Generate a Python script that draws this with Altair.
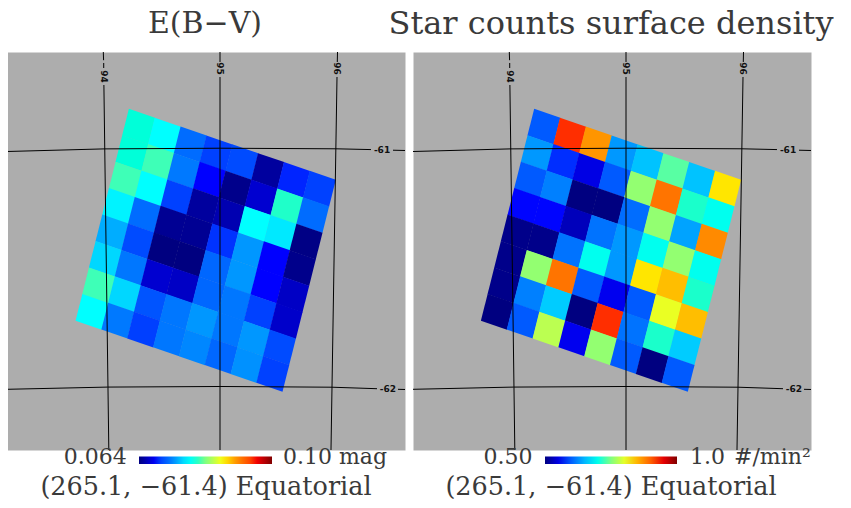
import altair as alt
import pandas as pd

JET = ["#000080", "#0000ff", "#0080ff", "#00ffff", "#80ff80", "#ffff00", "#ff8000", "#ff0000", "#800000"]
GRAY = "#adadad"
FONT = "DejaVu Serif"
INK = "#3a3a3a"

ebv = [
    [.0791, .0775, .0719, .0699, .0703, .0651, .0690, .0699],
    [.0791, .0803, .0726, .0685, .0644, .0669, .0797, .0719],
    [.0803, .0775, .0699, .0651, .0658, .0775, .0766, .0642],
    [.0770, .0719, .0647, .0647, .0694, .0737, .0685, .0644],
    [.0744, .0703, .0640, .0640, .0716, .0737, .0685, .0665],
    [.0759, .0725, .0669, .0665, .0716, .0725, .0699, .0667],
    [.0803, .0759, .0707, .0725, .0737, .0725, .0737, .0703],
    [.0775, .0726, .0698, .0725, .0732, .0716, .0735, .0699],
]
stars = [
    [.597, .928, .865, .635, .655, .735, .655, .825],
    [.635, .573, .550, .597, .760, .885, .717, .698],
    [.597, .625, .500, .500, .610, .760, .640, .870],
    [.563, .563, .530, .615, .635, .698, .760, .698],
    [.505, .505, .615, .698, .635, .825, .845, .717],
    [.505, .760, .885, .597, .555, .597, .803, .845],
    [.505, .625, .660, .500, .928, .615, .717, .660],
    [.500, .597, .780, .555, .760, .597, .500, .597],
]

# tangent-plane coordinates in degrees
EXT = 0.8344
grid_lines = [
    [(-.4306, .8344), (-.4294, .8000)],
    [(-.4289, .7883), (-.4289, .7673)],
    [(-.4281, .6960), (-.4075, -.8344)],
    [(.0587, .8344), (.0587, .7925)],
    [(.0587, .7296), (.0587, -.8344)],
    [(.5514, .8344), (.5505, .7925)],
    [(.5493, .7296), (.5241, -.8344)],
    [(-.8344, .4172), (-.4277, .4281), (.0587, .4310), (.5451, .4285), (.6918, .4252)],
    [(.7841, .4226), (.8344, .4214)],
    [(-.8344, -.5799), (-.4130, -.5706), (.0587, -.5681), (.5283, -.5711), (.7170, -.5774)],
    [(.8050, -.5799), (.8344, -.5807)],
]
grid_labels = [
    ("94", -.4289, .7317, 90),
    ("95", .0587, .7652, 90),
    ("96", .5505, .7652, 90),
    ("-61", .7380, .4235, 0),
    ("-62", .7631, -.5786, 0),
]
CELL_U = (.1083, -.0372)
CELL_V = (-.0279, -.1109)
CELL_SHAPE = "M-.4785,-.8835 L.8115,-.4395 L.4785,.8835 L-.8115,.4395 Z"

xs = alt.Scale(domain=[-EXT, EXT], nice=False, zero=False)
ys = alt.Scale(domain=[-EXT, EXT], nice=False, zero=False)

grid_df = pd.DataFrame(
    [{"seg": s, "k": k, "x": p[0], "y": p[1]} for s, line in enumerate(grid_lines) for k, p in enumerate(line)]
)
label_df = pd.DataFrame(grid_labels, columns=["t", "x", "y", "a"])


def text(t, x, y, align, size=22):
    return (
        alt.Chart(pd.DataFrame({"t": [t]}))
        .mark_text(font=FONT, fontSize=size, color=INK, align=align, baseline="alphabetic")
        .encode(x=alt.value(x), y=alt.value(y), text="t:N")
    )


def panel(values, origin, domain, bar_x, bar_len, texts):
    rows = []
    for i, row in enumerate(values):
        for j, v in enumerate(row):
            rows.append({
                "x": origin[0] + (j + .5) * CELL_U[0] + (i + .5) * CELL_V[0],
                "y": origin[1] + (j + .5) * CELL_U[1] + (i + .5) * CELL_V[1],
                "v": v,
            })
    cells = alt.Chart(pd.DataFrame(rows)).mark_point(
        shape=CELL_SHAPE, filled=True, opacity=1, size=1640, strokeWidth=0
    ).encode(
        x=alt.X("x:Q", scale=xs, axis=None),
        y=alt.Y("y:Q", scale=ys, axis=None),
        color=alt.Color(
            "v:Q",
            scale=alt.Scale(domain=domain, range=JET, nice=False, zero=False),
            legend=alt.Legend(
                orient="none", legendX=bar_x, legendY=404.5, direction="horizontal",
                gradientLength=bar_len, gradientThickness=7.5, gradientStrokeWidth=0,
                title=None, labelOpacity=0, labelFontSize=1, tickCount=2, padding=0,
            ),
        ),
    )
    lines = alt.Chart(grid_df).mark_line(color="black", strokeWidth=1).encode(
        x=alt.X("x:Q", scale=xs, axis=None),
        y=alt.Y("y:Q", scale=ys, axis=None),
        detail="seg:N",
        order="k:Q",
    )
    labs = []
    for _, r in label_df.iterrows():
        labs.append(
            alt.Chart(label_df[label_df.t == r.t]).mark_text(
                font="DejaVu Sans", fontWeight="bold", fontSize=9, color="#111", angle=int(r.a),
                align="center", baseline="middle",
            ).encode(
                x=alt.X("x:Q", scale=xs, axis=None),
                y=alt.Y("y:Q", scale=ys, axis=None),
                text="t:N",
            )
        )
    return alt.layer(cells, lines, *labs, *texts).properties(width=398, height=398)


left = panel(
    ebv, (-.3229, .5954), [0.064, 0.10], 132, 133,
    [
        text("E(B\u2212V)", 198, -19, "center", 30),
        text("0.064", 119.7, 412, "right"),
        text("0.10 mag", 276, 412, "left"),
        text("(265.1, \u221261.4) Equatorial", 199, 443, "center", 25.5),
    ],
)
right = panel(
    stars, (-.3258, .5954), [0.50, 1.0], 132, 132,
    [
        text("Star counts surface density", 198, -18, "center", 32),
        text("0.50", 119.5, 412, "right"),
        text("1.0", 277, 412, "left"),
        text("#/min\u00b2", 321, 412, "left"),
        text("(265.1, \u221261.4) Equatorial", 198, 443, "center", 25.5),
    ],
)

chart = (
    alt.hconcat(left, right, spacing=8, bounds="flush", padding={"left": -3, "top": 0, "right": 0, "bottom": 0})
    .resolve_scale(color="independent")
    .configure_view(fill=GRAY, strokeOpacity=0)
)
chart.save("out.html", embed_options={"renderer": "svg", "actions": False})
